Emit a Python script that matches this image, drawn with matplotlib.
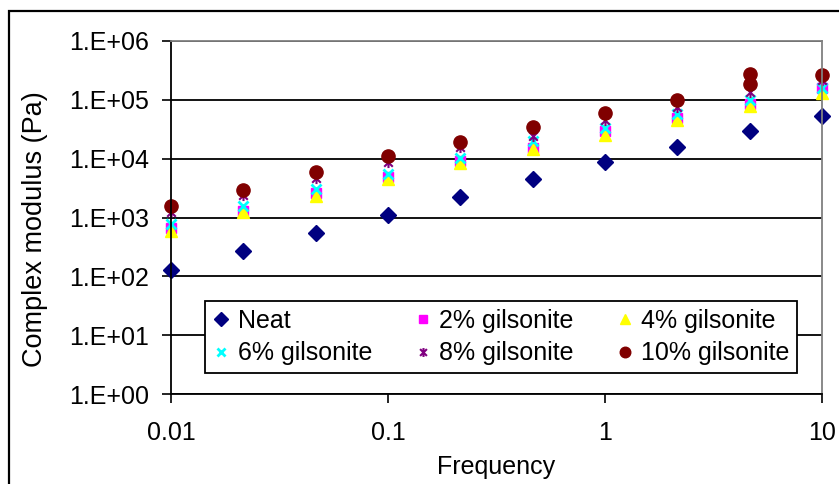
import math
import matplotlib
matplotlib.use("Agg")
import matplotlib.pyplot as plt
from matplotlib.ticker import FixedLocator, FuncFormatter, NullLocator
from matplotlib.patches import Rectangle
from matplotlib.path import Path

plt.rcParams['font.family'] = ['Liberation Sans', 'DejaVu Sans']

freq = [0.01, 0.0215, 0.0464, 0.1, 0.215, 0.464, 1.0, 2.15, 4.64, 10.0]
neat = [130, 270, 545, 1100, 2200, 4450, 8700, 16000, 29000, 54000]
g2 = [660, 1300, 2600, 4950, 9100, 15300, 29300, 49000, 86000, 160000]
g4 = [600, 1230, 2350, 4600, 8500, 14700, 25700, 46000, 78000, 131000]
g6 = [780, 1580, 3000, 5400, 10400, 19800, 33500, 58500, 98000, 159000]
g8 = [1250, 2400, 4650, 8750, 15700, 24700, 46000, 76000, 134000, 218000]
freq10 = [0.01, 0.0215, 0.0464, 0.1, 0.215, 0.464, 1.0, 2.15, 4.64, 4.64, 10.0]
g10 = [1580, 2900, 5900, 11000, 19400, 35000, 60000, 98000, 183000, 270000, 265000]

labels = ['Neat', '2% gilsonite', '4% gilsonite', '6% gilsonite', '8% gilsonite', '10% gilsonite']
yticks = [1, 10, 100, 1000, 10000, 100000, 1000000]
xticks = [0.01, 0.1, 1, 10]
xticklabels = ['0.01', '0.1', '1', '10']

# Excel-style star marker: an x with a vertical bar
star = Path([(-1, -1), (1, 1), (-1, 1), (1, -1), (0, -1.3), (0, 1.3)],
            [Path.MOVETO, Path.LINETO, Path.MOVETO, Path.LINETO, Path.MOVETO, Path.LINETO])

W, H = 839, 484
fig = plt.figure(figsize=(W/100, H/100), dpi=100)
L, R, T, B = 171, 822, 41, 394
ax = fig.add_axes([L/W, 1 - B/H, (R-L)/W, (B-T)/H])

fs = 18
h = []
kw = dict(ls='none', clip_on=False)
h.append(ax.plot(freq, neat, marker='D', ms=8.5, color='#000080', mec='#000080', **kw)[0])
h.append(ax.plot(freq, g2, marker='s', ms=7, color='#FF00FF', mec='#FF00FF', **kw)[0])
h.append(ax.plot(freq, g4, marker='^', ms=9, color='#FFFF00', mec='#FFFF00', **kw)[0])
h.append(ax.plot(freq, g6, marker='x', ms=7.5, mew=2, color='#00FFFF', **kw)[0])
h.append(ax.plot(freq, g8, marker=star, ms=8, mew=1.5, color='#800080', **kw)[0])
h.append(ax.plot(freq10, g10, marker='o', ms=9.5, color='#800000', mec='#800000', **kw)[0])

ax.set_xscale('log')
ax.set_yscale('log')
ax.set_xlim(0.01, 10)
ax.set_ylim(1, 1e6)
ax.xaxis.set_major_locator(FixedLocator(xticks))
ax.xaxis.set_major_formatter(FuncFormatter(lambda v, p: xticklabels[xticks.index(min(xticks, key=lambda t: abs(t - v)))]))
ax.xaxis.set_minor_locator(NullLocator())
ax.yaxis.set_major_locator(FixedLocator(yticks))
ax.yaxis.set_major_formatter(FuncFormatter(lambda v, p: '1.E+%02d' % round(math.log10(v))))
ax.yaxis.set_minor_locator(NullLocator())
ax.tick_params(axis='both', direction='out', length=6.5, width=1.2, labelsize=fs, color='black')
ax.tick_params(axis='y', pad=9)
ax.tick_params(axis='x', pad=13)

ax.grid(True, axis='y', color='black', lw=1.3)
ax.set_axisbelow(True)
for s in ['left', 'bottom']:
    ax.spines[s].set_color('black')
    ax.spines[s].set_linewidth(1.3)
for s in ['top', 'right']:
    ax.spines[s].set_color('#808080')
    ax.spines[s].set_linewidth(1.3)

ax.set_xlabel('Frequency', fontsize=fs, labelpad=7)
ax.set_ylabel('Complex modulus (Pa)', fontsize=19.5, va='center')
ax.yaxis.set_label_coords((35 - L)/(R - L), 1 - (229 - T)/(B - T))

order = [0, 3, 1, 4, 2, 5]
lx0, lx1, ly0, ly1 = 205, 797, 296, 378
leg = ax.legend([h[i] for i in order], [labels[i] for i in order], ncol=3,
                loc='center', bbox_to_anchor=((lx0-L)/(R-L), 1 - (ly1-T)/(B-T), (lx1-lx0)/(R-L), (ly1-ly0)/(B-T)),
                mode='expand', fontsize=fs, frameon=True, fancybox=False, framealpha=1,
                edgecolor='black', handlelength=0.7, handletextpad=0.3, borderpad=0.3,
                labelspacing=0.35, columnspacing=1.0, borderaxespad=0, markerscale=0.8)
leg.get_frame().set_linewidth(1.3)

fig.patches.append(Rectangle((9/W, -0.05), 1.1, 1 - 11/H + 0.05, transform=fig.transFigure,
                             fill=False, edgecolor='black', lw=1.6))

fig.savefig('out.png', dpi=100)
